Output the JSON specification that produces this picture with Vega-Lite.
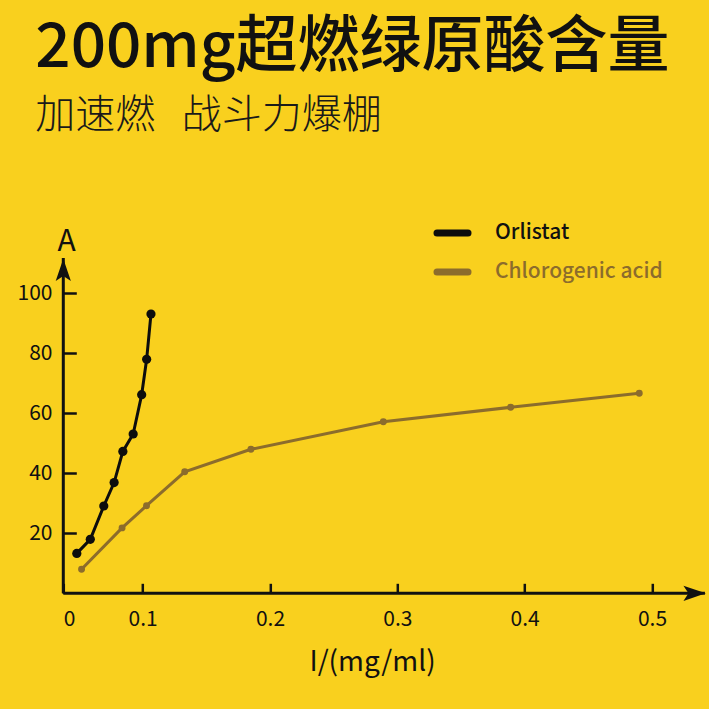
{
  "$schema": "https://vega.github.io/schema/vega-lite/v6.json",
  "autosize": {"type": "none"},
  "width": 645.7,
  "height": 443.3,
  "padding": {"left": 63.3, "top": 150, "right": 0, "bottom": 115.7},
  "background": "#F9D01E",
  "config": {
    "view": {"stroke": null},
    "font": "Noto Sans CJK SC"
  },
  "title": {
    "text": "200mg超燃绿原酸含量",
    "subtitle": "加速燃\u00a0\u00a0 战斗力爆棚",
    "anchor": "start",
    "frame": "group",
    "orient": "top",
    "dx": -28,
    "offset": 13,
    "font": "Noto Sans CJK SC",
    "fontSize": 62,
    "fontWeight": 500,
    "color": "#111111",
    "subtitleFont": "Noto Sans CJK SC",
    "subtitleFontSize": 40,
    "subtitleFontWeight": 300,
    "subtitleColor": "#1a1a1a",
    "subtitlePadding": 16
  },
  "datasets": {
    "curves": [
      {"series": "Orlistat", "I": 0.017, "A": 13.3},
      {"series": "Orlistat", "I": 0.034, "A": 18.0},
      {"series": "Orlistat", "I": 0.051, "A": 29.1},
      {"series": "Orlistat", "I": 0.064, "A": 36.9},
      {"series": "Orlistat", "I": 0.075, "A": 47.3},
      {"series": "Orlistat", "I": 0.088, "A": 53.1},
      {"series": "Orlistat", "I": 0.0987, "A": 66.2},
      {"series": "Orlistat", "I": 0.1031, "A": 78.0},
      {"series": "Orlistat", "I": 0.1065, "A": 93.1},
      {"series": "Chlorogenic acid", "I": 0.023, "A": 8.0},
      {"series": "Chlorogenic acid", "I": 0.074, "A": 21.8},
      {"series": "Chlorogenic acid", "I": 0.103, "A": 29.2},
      {"series": "Chlorogenic acid", "I": 0.133, "A": 40.5},
      {"series": "Chlorogenic acid", "I": 0.185, "A": 48.0},
      {"series": "Chlorogenic acid", "I": 0.289, "A": 57.2},
      {"series": "Chlorogenic acid", "I": 0.389, "A": 62.0},
      {"series": "Chlorogenic acid", "I": 0.49, "A": 66.7}
    ],
    "axes": [
      {"axis": "x", "x0": 0, "x1": 0.5416, "y0": 0, "y1": 0},
      {"axis": "y", "x0": 0, "x1": 0, "y0": 0, "y1": 111.8}
    ],
    "arrows": [
      {"axis": "x", "x": 0.5335, "y": 0, "dir": "right"},
      {"axis": "y", "x": 0, "y": 107.8, "dir": "up"}
    ]
  },
  "layer": [
    {
      "data": {"name": "axes"},
      "mark": {"type": "rule", "color": "#111111", "strokeWidth": 3},
      "encoding": {
        "x": {"field": "x0", "type": "quantitative", "scale": {"domain": [0, 0.1, 0.5, 0.5448], "range": [0, 79.4, 588.7, 645.7], "nice": false}, "axis": {
          "values": [0, 0.1, 0.2, 0.3, 0.4, 0.5],
          "domain": false,
          "grid": false,
          "tickSize": -10,
          "tickWidth": 2.5,
          "tickColor": "#111111",
          "labelPadding": 25,
          "labelFontSize": 21,
          "labelColor": "#111111",
          "labelFont": "Noto Sans CJK SC",
          "labelExpr": "datum.value === 0 ? '0' : format(datum.value, '.1f')",
          "title": "I/(mg/ml)",
          "titleFont": "Noto Sans CJK SC",
          "titleFontSize": 28,
          "titleFontWeight": "normal",
          "titleColor": "#111111",
          "titleX": 308.7,
          "titleY": 77,
          "titleAlign": "center",
          "titleBaseline": "alphabetic"
        }},
        "x2": {"field": "x1"},
        "y": {"field": "y0", "type": "quantitative", "scale": {"domain": [0, 147.77], "nice": false, "zero": true}, "axis": {
          "values": [20, 40, 60, 80, 100],
          "domain": false,
          "grid": false,
          "tickSize": -13,
          "tickWidth": 2.5,
          "tickColor": "#111111",
          "labelPadding": 24.3,
          "labelFontSize": 21,
          "labelColor": "#111111",
          "labelFont": "Noto Sans CJK SC",
          "title": "A",
          "titleFont": "Noto Sans CJK SC",
          "titleFontSize": 30,
          "titleFontWeight": "normal",
          "titleColor": "#111111",
          "titleAngle": 0,
          "titleX": 2.7,
          "titleY": 100,
          "titleAlign": "center",
          "titleBaseline": "alphabetic"
        }},
        "y2": {"field": "y1"}
      }
    },
    {
      "data": {"name": "arrows"},
      "mark": {"type": "point", "filled": true, "color": "#111111", "opacity": 1, "size": 500},
      "encoding": {
        "x": {"field": "x", "type": "quantitative"},
        "y": {"field": "y", "type": "quantitative"},
        "shape": {"field": "dir", "type": "nominal", "legend": null, "scale": {"domain": ["right", "up"], "range": ["M 1 0 L -1 -0.68 L -0.55 0 L -1 0.68 Z", "M 0 -1 L -0.68 1 L 0 0.55 L 0.68 1 Z"]}}
      }
    },
    {
      "data": {"name": "curves"},
      "mark": {"type": "line", "strokeWidth": 3},
      "encoding": {
        "x": {"field": "I", "type": "quantitative"},
        "y": {"field": "A", "type": "quantitative"},
        "color": {"field": "series", "type": "nominal", "scale": {"domain": ["Orlistat", "Chlorogenic acid"], "range": ["#0d0d0d", "#8C6C2C"]}, "legend": {
          "orient": "none",
          "legendX": 370.2,
          "legendY": 64,
          "title": null,
          "padding": 0,
          "symbolType": "stroke",
          "symbolSize": 961,
          "symbolStrokeWidth": 7,
          "labelOffset": 23.5,
          "labelFontSize": 21,
          "labelLimit": 400,
          "labelFont": "Noto Sans CJK SC",
          "labelFontWeight": 500,
          "rowPadding": 6,
          "encode": {
            "symbols": {"update": {"strokeCap": {"value": "round"}}},
            "labels": {"update": {"fill": {"signal": "datum.label === 'Orlistat' ? '#111111' : '#8C6C2C'"}}}
          }
        }}
      }
    },
    {
      "data": {"name": "curves"},
      "transform": [{"filter": "datum.series === 'Orlistat'"}],
      "mark": {"type": "point", "filled": true, "opacity": 1, "size": 85},
      "encoding": {
        "x": {"field": "I", "type": "quantitative"},
        "y": {"field": "A", "type": "quantitative"},
        "color": {"field": "series", "type": "nominal", "legend": null}
      }
    },
    {
      "data": {"name": "curves"},
      "transform": [{"filter": "datum.series === 'Chlorogenic acid'"}],
      "mark": {"type": "point", "filled": true, "opacity": 1, "size": 48},
      "encoding": {
        "x": {"field": "I", "type": "quantitative"},
        "y": {"field": "A", "type": "quantitative"},
        "color": {"field": "series", "type": "nominal", "legend": null}
      }
    }
  ]
}
